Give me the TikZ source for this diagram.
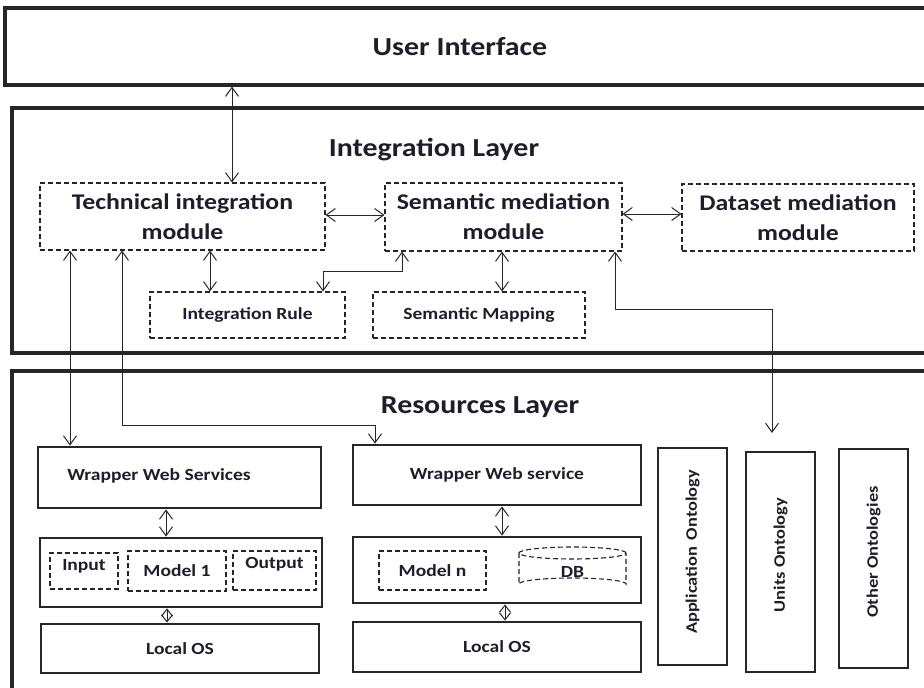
\documentclass[tikz,border=0pt]{standalone}
\usepackage{fontspec}
\setmainfont[FakeStretch=1.15]{Carlito}
\usetikzlibrary{arrows.meta}
\definecolor{ink}{HTML}{1E1E2A}
\definecolor{edge}{HTML}{262626}
\begin{document}
\begin{tikzpicture}[x=1pt,y=-1pt,
  frame/.style={draw=edge,line width=3.2pt,inner sep=0pt,fill=white},
  thin frame/.style={draw=edge,line width=2.8pt,inner sep=0pt,fill=white},
  dbox/.style={draw=edge,line width=1.1pt,dash pattern=on 5pt off 3pt,inner sep=0pt},
  sz/.style 2 args={minimum width=#1pt,minimum height=#2pt},
  title/.style={text=ink,font=\fontsize{26}{30}\selectfont\bfseries},
  modtxt/.style={text=ink,font=\fontsize{22.4}{30}\selectfont\bfseries,align=center},
  small/.style={text=ink,font=\fontsize{17}{20}\selectfont\bfseries},
  onto/.style={text=ink,font=\fontsize{16}{19}\selectfont\bfseries,rotate=90},
  arr/.style={draw=edge,line width=1pt,{Straight Barb[length=9pt,width=13pt]}-{Straight Barb[length=9pt,width=13pt]}},
  short arr/.style={draw=edge,line width=1pt,{Straight Barb[length=7pt,width=11pt]}-{Straight Barb[length=7pt,width=11pt]}}]
\useasboundingbox (0,0) rectangle (924,688);
\clip (0,0) rectangle (924,688);
\fill[white] (0,0) rectangle (924,688);

% --- three layers ---
\node[frame,sz={930}{77}] (ui) at (470,46.5) {};
\node[title] (uit) at (460,47) {User Interface};
\node[frame,sz={928}{245}] (integ) at (476,230.5) {};
\node[title] (integt) at (434,150) {Integration Layer};
\node[frame,sz={928}{330}] (res) at (476,536) {};
\node[title] (rest) at (480,407) {Resources Layer};

% --- integration layer modules ---
\node[dbox,sz={285}{67},modtxt] (tech) at (182.5,216.5) {Technical integration\\module};
\node[dbox,sz={237}{68},modtxt] (sem) at (503.5,217) {Semantic mediation\\module};
\node[dbox,sz={232}{67},modtxt] (data) at (798,217.5) {Dataset mediation\\module};
\node[dbox,sz={195}{46},small] (ir) at (247.5,315) {Integration Rule};
\node[dbox,sz={212}{46},small] (sm) at (479,315) {Semantic Mapping};

% --- first resource stack ---
\node[thin frame,sz={283}{61}] (wws) at (179.5,477.5) {};
\node[small] (wwst) at (159,476) {Wrapper Web Services};
\node[thin frame,sz={282}{69}] (mod1) at (181,572.5) {};
\node[dbox,sz={68}{36}] (inp) at (84,571) {};
\node[small] (inpt) at (84,566) {Input};
\node[dbox,sz={98}{40},small] (m1) at (177,571) {Model 1};
\node[dbox,sz={83}{39}] (outp) at (274.5,570.5) {};
\node[small] (outpt) at (274.5,564) {Output};
\node[thin frame,sz={278}{49},small] (los1) at (180,648.5) {Local OS};

% --- second resource stack ---
\node[thin frame,sz={288}{60},small] (wws2) at (497,475) {Wrapper Web service};
\node[thin frame,sz={288}{66}] (mod2) at (497,570) {};
\node[dbox,sz={107}{39},small] (mn) at (432.5,570.5) {Model n};
% database drum
\draw[dbox] (572.5,553) ellipse [x radius=53.5pt, y radius=6pt];
\draw[dbox] (519,553) -- (519,584) arc[start angle=180, end angle=360, x radius=53.5pt, y radius=-6pt] -- (626,553);
\node[small] (db) at (572.5,572) {DB};
\node[thin frame,sz={288}{50},small] (los2) at (497,647) {Local OS};

% --- ontologies ---
\node[thin frame,sz={69}{217}] (app) at (692.5,556.5) {};
\node[onto] (appt) at (692.5,552) {Application\, Ontology};
\node[thin frame,sz={69}{220}] (units) at (780.5,562) {};
\node[onto] (unitst) at (780.5,555) {Units Ontology};
\node[thin frame,sz={69}{219}] (other) at (873.5,558.5) {};
\node[onto] (othert) at (873.5,552) {Other Ontologies};
\coordinate (unitsin) at (772,433);

% --- connectors ---
\draw[arr] (232,0 |- ui.south) -- (232,0 |- tech.north);
\draw[arr] (tech.east |- 0,215) -- (sem.west |- 0,215);
\draw[arr] (sem.east |- 0,214) -- (data.west |- 0,214);
\draw[arr] (210,0 |- tech.south) -- (210,0 |- ir.north);
\draw[arr] (402,0 |- sem.south) -- (402,271) -- (323,271) -- (323,0 |- ir.north);
\draw[arr] (502,0 |- sem.south) -- (502,0 |- sm.north);
\draw[arr] (615,0 |- sem.south) -- (615,309) -- (772,309) -- (unitsin);
\draw[arr] (70,0 |- tech.south) -- (70,0 |- wws.north);
\draw[arr] (122,0 |- tech.south) -- (122,425) -- (375,425) -- (375,0 |- wws2.north);
\draw[arr] (166,0 |- wws.south) -- (166,0 |- mod1.north);
\draw[short arr] (167,0 |- mod1.south) -- (167,0 |- los1.north);
\draw[arr] (502,0 |- wws2.south) -- (502,0 |- mod2.north);
\draw[short arr] (505,0 |- mod2.south) -- (505,0 |- los2.north);
\end{tikzpicture}
\end{document}
